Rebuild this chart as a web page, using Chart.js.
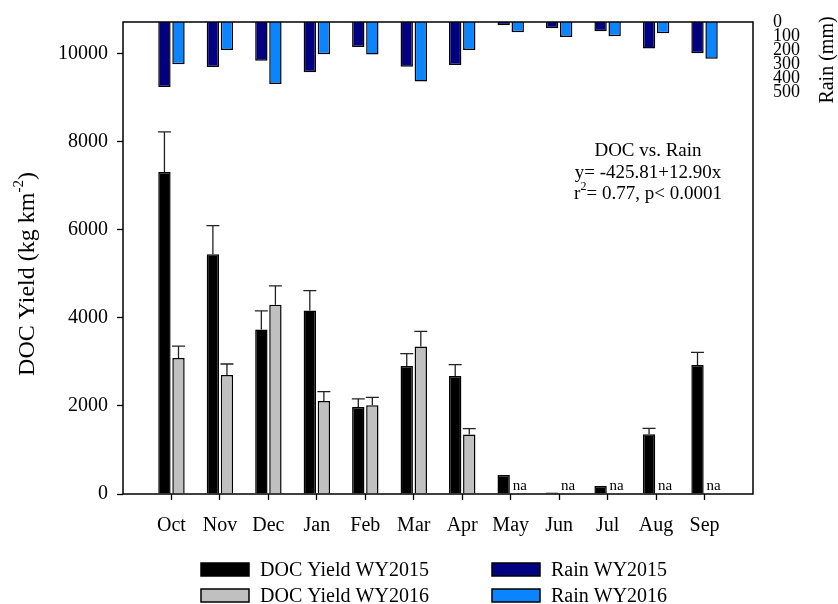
<!DOCTYPE html>
<html><head><meta charset="utf-8">
<script src="https://cdn.jsdelivr.net/npm/chart.js@4.4.0/dist/chart.umd.min.js"></script>
<style>html,body{margin:0;padding:0;background:#fff}#wrap{width:838px;height:604px}</style>
</head><body><div id="wrap"><canvas id="c" width="838" height="604"></canvas></div>
<script>
const months = ['Oct','Nov','Dec','Jan','Feb','Mar','Apr','May','Jun','Jul','Aug','Sep'];
const doc2015 = [7320, 5450, 3740, 4170, 1980, 2910, 2680, 430, 35, 180, 1360, 2930];
const doc2015Err = [910, 650, 420, 450, 180, 280, 260, null, null, null, 130, 290];
const doc2016 = [3090, 2705, 4300, 2115, 2015, 3355, 1355, null, null, null, null, null];
const doc2016Err = [270, 250, 430, 210, 180, 340, 130, null, null, null, null, null];
const rain2015 = [461, 319, 274, 357, 177, 317, 305, 23, 45, 66, 187, 222];
const rain2016 = [300, 199, 440, 229, 231, 421, 199, 73, 106, 101, 80, 260];
const docTicks = [0, 2000, 4000, 6000, 8000, 10000];
const rainTicks = [0, 100, 200, 300, 400, 500];
const xLabels = [''].concat(months, ['']);

const SERIF = "'Liberation Serif','Times New Roman',serif";
Chart.defaults.font.family = SERIF;
Chart.defaults.color = '#000';

const pts = arr => months.map((m, i) => ({x: m, y: arr[i]}));

const barCommon = {categoryPercentage: 0.58, barPercentage: 0.88, borderWidth: 1.5, borderColor: '#000'};

const noPad = s => { s.paddingTop = 0; s.paddingBottom = 0; s.paddingLeft = 0; s.paddingRight = 0; };

const decor = {
  id: 'decor',
  afterDatasetsDraw(chart) {
    const ctx = chart.ctx, ys = chart.scales.y, ca = chart.chartArea;
    ctx.save();
    // error bars
    [[0, doc2015, doc2015Err], [1, doc2016, doc2016Err]].forEach(([di, vals, errs]) => {
      const meta = chart.getDatasetMeta(di);
      meta.data.forEach((el, i) => {
        if (errs[i] == null || vals[i] == null) return;
        const y0 = ys.getPixelForValue(vals[i]);
        const y1 = ys.getPixelForValue(vals[i] + errs[i]);
        ctx.strokeStyle = '#222'; ctx.lineWidth = 1.3;
        ctx.beginPath();
        ctx.moveTo(el.x, y0); ctx.lineTo(el.x, y1);
        ctx.moveTo(el.x - 6.5, y1); ctx.lineTo(el.x + 6.5, y1);
        ctx.stroke();
      });
    });
    // na labels
    const m16 = chart.getDatasetMeta(1);
    ctx.fillStyle = '#000'; ctx.font = '15px ' + SERIF;
    ctx.textAlign = 'center'; ctx.textBaseline = 'alphabetic';
    doc2016.forEach((v, i) => {
      if (v != null) return;
      const el = m16.data[i];
      ctx.fillText('na', el.x + 2, ys.getPixelForValue(0) - 4);
    });
    // frame
    ctx.strokeStyle = '#000'; ctx.lineWidth = 1.5;
    ctx.strokeRect(ca.left, ca.top, ca.right - ca.left, ca.bottom - ca.top);
    ctx.restore();
  },
  afterDraw(chart) {
    const ctx = chart.ctx, ca = chart.chartArea;
    ctx.save();
    ctx.fillStyle = '#000';
    // annotation
    const cx = ca.right - 105;
    ctx.font = '19px ' + SERIF; ctx.textAlign = 'center'; ctx.textBaseline = 'middle';
    ctx.fillText('DOC vs. Rain', cx, ca.top + 129);
    ctx.fillText('y= -425.81+12.90x', cx, ca.top + 151);
    const a = 'r', b = '2', c = '= 0.77, p< 0.0001';
    ctx.font = '19px ' + SERIF; const wa = ctx.measureText(a).width, wc = ctx.measureText(c).width;
    ctx.font = '12px ' + SERIF; const wb = ctx.measureText(b).width;
    let x = cx - (wa + wb + wc) / 2; const y = ca.top + 172;
    ctx.textAlign = 'left';
    ctx.font = '19px ' + SERIF; ctx.fillText(a, x, y); x += wa;
    ctx.font = '12px ' + SERIF; ctx.fillText(b, x, y - 7); x += wb;
    ctx.font = '19px ' + SERIF; ctx.fillText(c, x, y);

    // left axis title with superscript
    ctx.save();
    ctx.translate(28, 274); ctx.rotate(-Math.PI / 2);
    const t1 = 'DOC Yield (kg km', t2 = '-2', t3 = ')';
    ctx.font = '24px ' + SERIF; const w1 = ctx.measureText(t1).width, w3 = ctx.measureText(t3).width;
    ctx.font = '15px ' + SERIF; const w2 = ctx.measureText(t2).width;
    let tx = -(w1 + w2 + w3) / 2;
    ctx.textAlign = 'left'; ctx.textBaseline = 'middle';
    ctx.font = '24px ' + SERIF; ctx.fillText(t1, tx, 0); tx += w1;
    ctx.font = '15px ' + SERIF; ctx.fillText(t2, tx, -9); tx += w2;
    ctx.font = '24px ' + SERIF; ctx.fillText(t3, tx, 0);
    ctx.restore();

    // right axis title
    ctx.save();
    ctx.translate(828, 60); ctx.rotate(-Math.PI / 2);
    ctx.font = '20px ' + SERIF; ctx.textAlign = 'center'; ctx.textBaseline = 'middle';
    ctx.fillText('Rain (mm)', 0, 0);
    ctx.restore();

    // legend (two columns)
    const cols = [201, 492], rows = [569.5, 595.5];
    [0, 1, 2, 3].forEach((di, k) => {
      const ds = chart.data.datasets[di];
      const bx = cols[Math.floor(k / 2)], by = rows[k % 2];
      ctx.fillStyle = ds.backgroundColor;
      ctx.fillRect(bx, by - 6.5, 48, 13);
      ctx.strokeStyle = '#000'; ctx.lineWidth = 1.5;
      ctx.strokeRect(bx, by - 6.5, 48, 13);
      ctx.fillStyle = '#000'; ctx.font = '20px ' + SERIF;
      ctx.textAlign = 'left'; ctx.textBaseline = 'middle';
      ctx.fillText(ds.label, bx + 59, by + 1);
    });
    ctx.restore();
  }
};

new Chart(document.getElementById('c'), {
  type: 'bar',
  data: {
    labels: xLabels,
    datasets: [
      Object.assign({label: 'DOC Yield WY2015', data: pts(doc2015), backgroundColor: '#000000', yAxisID: 'y', stack: 'a'}, barCommon),
      Object.assign({label: 'DOC Yield WY2016', data: pts(doc2016), backgroundColor: '#c0c0c0', yAxisID: 'y', stack: 'b'}, barCommon),
      Object.assign({label: 'Rain WY2015', data: pts(rain2015), backgroundColor: '#000080', yAxisID: 'y1', stack: 'a'}, barCommon),
      Object.assign({label: 'Rain WY2016', data: pts(rain2016), backgroundColor: '#0a84ff', yAxisID: 'y1', stack: 'b'}, barCommon)
    ]
  },
  options: {
    responsive: false,
    animation: false,
    layout: {padding: {left: 0, right: 0, top: 22, bottom: 60}},
    plugins: {legend: {display: false}, tooltip: {enabled: false}},
    scales: {
      x: {
        type: 'category', offset: false,
        grid: {display: true, offset: false, drawOnChartArea: false, drawTicks: true, tickLength: 6, tickWidth: 1.3,
               tickColor: c => (c.index === 0 || c.index === xLabels.length - 1) ? 'rgba(0,0,0,0)' : '#000'},
        border: {display: false},
        ticks: {autoSkip: false, maxRotation: 0, font: {size: 20}, color: '#000', padding: 14},
        afterFit: s => { s.height = 50; noPad(s); }
      },
      y: {
        position: 'left', min: 0, max: 10727, stacked: false,
        grid: {display: true, drawOnChartArea: false, drawTicks: true, tickLength: 6, tickWidth: 1.3, tickColor: '#000'},
        border: {display: false},
        afterBuildTicks: s => { s.ticks = docTicks.map(v => ({value: v})); },
        ticks: {font: {size: 20}, color: '#000', padding: 9, autoSkip: false, callback: v => String(v)},
        afterFit: s => { s.width = 123; noPad(s); }
      },
      y1: {
        position: 'right', min: 0, max: 3345, reverse: true, stacked: false,
        grid: {display: false, drawTicks: false},
        border: {display: false},
        afterBuildTicks: s => { s.ticks = rainTicks.map(v => ({value: v})); },
        ticks: {font: {size: 18}, color: '#000', padding: 20, autoSkip: false, callback: v => String(v)},
        afterFit: s => { s.width = 85; noPad(s); }
      }
    }
  },
  plugins: [decor]
});
</script>
</body></html>
